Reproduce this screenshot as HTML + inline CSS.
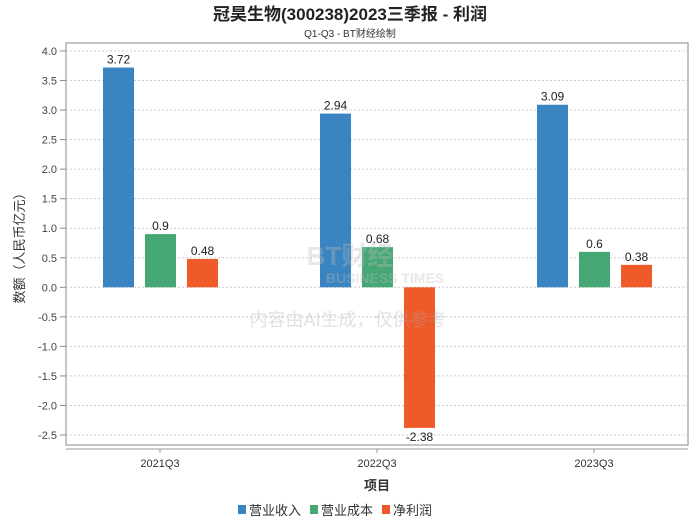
<!DOCTYPE html>
<html><head><meta charset="utf-8"><style>
body{margin:0;background:#fff;font-family:"Liberation Sans","Noto Sans CJK SC",sans-serif}
svg text{font-family:"Liberation Sans","Noto Sans CJK SC",sans-serif}
</style></head><body>
<svg id="c" width="700" height="524" xmlns="http://www.w3.org/2000/svg">
<text x="350" y="20" text-anchor="middle" font-size="17" font-weight="bold" fill="#222">冠昊生物(300238)2023三季报 - 利润</text>
<text x="350" y="37" text-anchor="middle" font-size="10" fill="#333">Q1-Q3 - BT财经绘制</text>
<rect x="66" y="43" width="622" height="402" fill="none" stroke="#888"/>
<g id="grid"></g><g id="bars"></g><g id="xaxis"></g>
<g opacity="0.35">
<text x="350" y="265" text-anchor="middle" font-size="26" fill="#bbb" font-weight="bold">BT财经</text>
<text x="385" y="283" text-anchor="middle" font-size="14" fill="#bbb" font-weight="bold">BUSINESS TIMES</text>
<text x="348" y="326" text-anchor="middle" font-size="18" fill="#aaa">内容由AI生成，仅供参考</text>
</g>
<text transform="translate(24,245) rotate(-90)" text-anchor="middle" font-size="13" fill="#333">数额（人民币亿元）</text>
<text x="377" y="490" text-anchor="middle" font-size="13" fill="#333" font-weight="bold">项目</text>
<g id="legend"></g>
</svg>
<script>
const categories=["2021Q3","2022Q3","2023Q3"];
const seriesNames=["营业收入","营业成本","净利润"];
const revenue=[3.72,2.94,3.09];
const cost=[0.9,0.68,0.6];
const profit=[0.48,-2.38,0.38];
const yTicks=[4.0,3.5,3.0,2.5,2.0,1.5,1.0,0.5,0.0,-0.5,-1.0,-1.5,-2.0,-2.5];
const colors=["#3a84c2","#45a874","#f05a28"];
const NS="http://www.w3.org/2000/svg";
const y=v=>287.3-v*59.08;
const xc=i=>160+i*217;
function mk(t,a,p){const e=document.createElementNS(NS,t);for(const k in a)e.setAttribute(k,a[k]);p.appendChild(e);return e;}
const grid=document.getElementById('grid');
yTicks.forEach(t=>{
  const l=mk('line',{x1:66,x2:688,y1:y(t),y2:y(t),stroke:'#ccc','stroke-dasharray':'2,2'},grid);
  
  
  const tx=mk('text',{x:57,y:y(t)+4,'text-anchor':'end','font-size':11,fill:'#444'},grid);
  tx.textContent=t.toFixed(1);
  
  
  mk('line',{x1:60,x2:66,y1:y(t),y2:y(t),stroke:'#888'},grid);
});
const bars=document.getElementById('bars');
[revenue,cost,profit].forEach((s,j)=>{
  s.forEach((v,i)=>{
    const bx=xc(i)-57+j*42;
    const r=mk('rect',{x:bx,y:Math.min(y(v),y(0)),width:31,height:Math.abs(y(v)-y(0)),fill:colors[j]},bars);
    
    
    const ly=v>=0?y(v)-4:y(v)+13;
    const t=mk('text',{x:bx+15.5,y:ly,'text-anchor':'middle','font-size':12,fill:'#222'},bars);
    t.textContent=String(v);
    
    
  });
});
const xa=document.getElementById('xaxis');
mk('line',{x1:66,x2:688,y1:449,y2:449,stroke:'#999'},xa);
categories.forEach((c,i)=>{
  mk('line',{x1:xc(i),x2:xc(i),y1:449,y2:453,stroke:'#999'},xa);
  const t=mk('text',{x:xc(i),y:467,'text-anchor':'middle','font-size':11,fill:'#333'},xa);
  t.textContent=c;
  
  
});
const lg=document.getElementById('legend');
let lx=238;
seriesNames.forEach((n,j)=>{
  const r=mk('rect',{x:lx,y:505,width:8,height:9,fill:colors[j]},lg);
  
  
  const t=mk('text',{x:lx+11,y:515,'font-size':13,fill:'#333'},lg);
  t.textContent=n;
  
  
  lx+=11+n.length*13+9;
});
</script>
</body></html>
